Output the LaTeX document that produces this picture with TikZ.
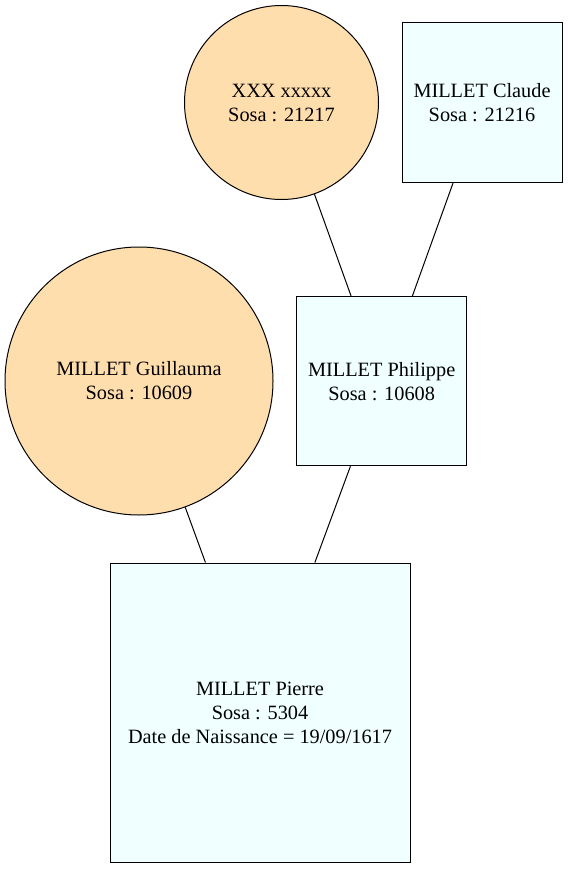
\documentclass[tikz,border=0pt]{standalone}
\usepackage{fontspec}
\setmainfont{Liberation Serif}
\definecolor{femfill}{HTML}{FFDEAD}
\definecolor{malefill}{HTML}{F0FFFF}
\begin{document}
\begin{tikzpicture}[x=1pt,y=-1pt,
  every node/.style={font=\fontsize{20.3}{24}\selectfont, align=center, inner sep=0pt, line width=1pt, draw=black},
  fem/.style={circle, fill=femfill},
  male/.style={rectangle, fill=malefill},
  link/.style={line width=1pt, draw=black}]
\useasboundingbox (0,0) rectangle (567,869);
\node[fem, minimum size=194pt] (xxx) at (281.5,102.5) {XXX xxxxx\\Sosa : 21217};
\node[male, minimum width=160pt, minimum height=159pt] (claude) at (482,102.5) {MILLET Claude\\Sosa : 21216};
\node[fem, minimum size=268pt] (guil) at (139,381) {MILLET Guillauma\\Sosa : 10609};
\node[male, minimum width=170pt, minimum height=169pt] (phil) at (381.7,381.3) {MILLET Philippe\\Sosa : 10608};
\node[male, minimum width=300pt, minimum height=299pt] (pierre) at (260,712.5) {MILLET Pierre\\Sosa : 5304\\Date de Naissance = 19/09/1617};
\draw[link] (xxx) -- (phil);
\draw[link] (claude) -- (phil);
\draw[link] (guil) -- (pierre);
\draw[link] (phil) -- (pierre);
\end{tikzpicture}
\end{document}
